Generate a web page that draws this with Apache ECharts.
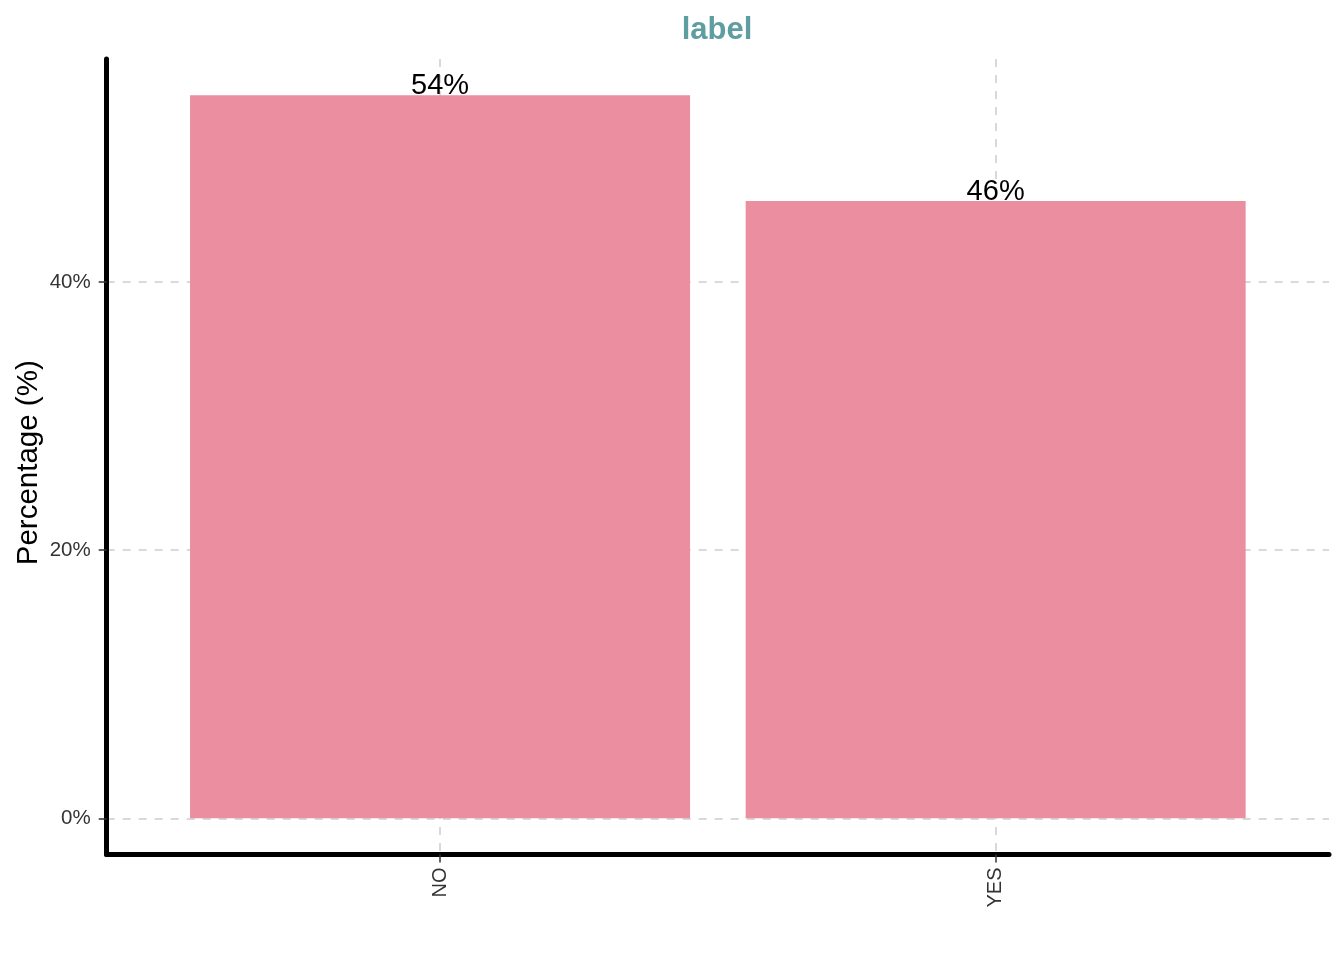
<!DOCTYPE html>
<html>
<head>
<meta charset="utf-8">
<script src="https://cdn.jsdelivr.net/npm/echarts@6/dist/echarts.min.js"></script>
<style>
html,body{margin:0;padding:0;background:#fff;}
#chart{width:1344px;height:960px;}
</style>
</head>
<body>
<div id="chart"></div>
<script>
const categories = ['NO', 'YES'];
const percentages = [53.95, 46.05];
const yTickValues = [0, 20, 40];
const titleText = 'label';
const yAxisName = 'Percentage (%)';

const FONT = "'Liberation Sans', Arial, sans-serif";
const catPositions = categories.map((c, i) => i + 1);
const dataMax = Math.max.apply(null, percentages);
const yMin = -0.05 * dataMax;
const yMax = dataMax * 1.05;

const chart = echarts.init(document.getElementById('chart'), null, { renderer: 'canvas' });
chart.setOption({
  backgroundColor: '#ffffff',
  animation: false,
  title: {
    text: titleText,
    left: 712,
    top: 10,
    textAlign: 'center',
    textStyle: { fontFamily: FONT, fontSize: 31, fontWeight: 'bold', color: '#5F9EA0' }
  },
  grid: { left: 106.7, right: 15, top: 59, bottom: 105.5, containLabel: false },
  xAxis: {
    type: 'value',
    min: 0.4,
    max: 2.6,
    axisLine: { show: true, onZero: false, lineStyle: { color: '#000', width: 5 } },
    axisTick: { show: true, customValues: catPositions, length: 8, lineStyle: { color: '#333', width: 1.5 } },
    axisLabel: {
      customValues: catPositions,
      rotate: 90,
      margin: 13,
      fontFamily: FONT, fontSize: 20, color: '#333333',
      formatter: v => categories[Math.round(v) - 1] || ''
    },
    splitLine: { show: true, lineStyle: { color: '#d0d0d0', width: 1.6, type: [8, 8] } }
  },
  yAxis: {
    type: 'value',
    min: yMin,
    max: yMax,
    name: yAxisName,
    nameLocation: 'middle',
    nameGap: 63,
    nameMoveOverlap: false,
    nameRotate: 90,
    nameTextStyle: { fontFamily: FONT, fontSize: 29.5, color: '#000', padding: [0, 12, 0, 0] },
    axisLine: { show: true, onZero: false, lineStyle: { color: '#000', width: 5 } },
    axisTick: { show: true, customValues: yTickValues, length: 8, lineStyle: { color: '#333', width: 1.5 } },
    axisLabel: {
      customValues: yTickValues,
      margin: 16,
      fontFamily: FONT, fontSize: 20.5, color: '#333333',
      formatter: v => Math.round(v) + '%'
    },
    splitLine: { show: true, lineStyle: { color: '#d0d0d0', width: 1.6, type: [8, 8] } }
  },
  series: [{
    type: 'bar',
    barWidth: 500,
    data: percentages.map((v, i) => [catPositions[i], v]),
    itemStyle: { color: '#EB8E9F' },
    label: {
      show: true,
      position: 'top',
      distance: -5,
      fontFamily: FONT, fontSize: 29, color: '#000',
      formatter: p => Math.round(p.value[1]) + '%'
    }
  }]
});
</script>
</body>
</html>
